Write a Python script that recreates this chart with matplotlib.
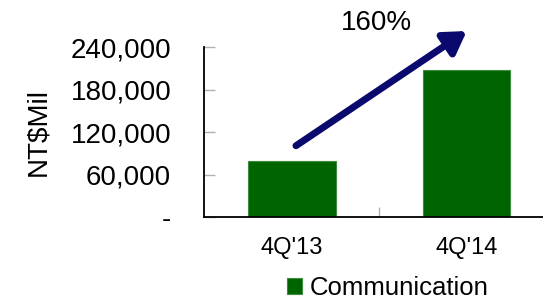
import matplotlib
matplotlib.use("Agg")
import matplotlib.pyplot as plt

plt.rcParams['font.family'] = ['Liberation Sans', 'DejaVu Sans']

# data
categories = ["4Q'13", "4Q'14"]
communication = [79500, 207500]
yticks = [0, 60000, 120000, 180000, 240000]
ytick_labels = ['-', '60,000', '120,000', '180,000', '240,000']
growth_label = '160%'
series_name = 'Communication'

bar_green = '#006400'
arrow_blue = '#0a0a6e'

fig = plt.figure(figsize=(5.43, 3.0), dpi=100)
ax = fig.add_axes([0.3766, 0.2757, 0.644, 0.5666])

x = list(range(len(categories)))
ax.bar(x, communication, width=0.5, color=bar_green, edgecolor='#3d8c3d',
       linewidth=0.8, label=series_name, zorder=2)

ax.set_xlim(-0.5, 1.5)
ax.set_ylim(0, 240000)

ax.spines['top'].set_visible(False)
ax.spines['right'].set_visible(False)
ax.spines['left'].set_linewidth(1.3)
ax.spines['bottom'].set_linewidth(1.3)

ax.set_yticks(yticks)
ax.set_yticklabels(ytick_labels)
ax.tick_params(axis='y', direction='in', length=8, width=1, color='#b0b0b0',
               labelsize=20, pad=24)

ax.set_xticks(x)
ax.set_xticklabels(categories)
ax.tick_params(axis='x', which='major', length=0, labelsize=17, pad=14)
ax.set_xticks([0.5], minor=True)
ax.tick_params(axis='x', which='minor', direction='in', length=7, width=1,
               color='#b0b0b0')

ax.set_ylabel('NT$Mil', fontsize=20)
ax.yaxis.set_label_coords((51 - 204.5) / 350, 0.5)

# growth arrow
ax.annotate('', xy=(1.0, 263000), xytext=(0.023, 101000),
            arrowprops=dict(arrowstyle='-|>,head_length=1.3,head_width=0.8',
                            lw=5, color=arrow_blue, shrinkA=0, shrinkB=0),
            annotation_clip=False)
fig.text(376 / 543, 1 - 22.5 / 300, growth_label, fontsize=20,
         ha='center', va='center')

fig.legend(loc='center', bbox_to_anchor=(388 / 543, 1 - 288 / 300),
           frameon=False, fontsize=18.5, handlelength=0.6, handleheight=0.6,
           handletextpad=0.3, borderpad=0, borderaxespad=0)

fig.savefig('out.png', dpi=100)
